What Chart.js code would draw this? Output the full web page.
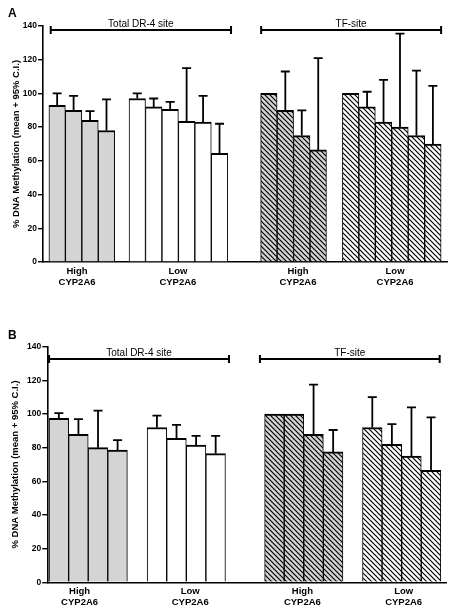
<!DOCTYPE html>
<html>
<head>
<meta charset="utf-8">
<script src="https://cdn.jsdelivr.net/npm/chart.js@4/dist/chart.umd.min.js"></script>
<style>
  body { margin: 0; background: #fff; }
  canvas { position: absolute; left: 0; display: block; }
</style>
</head>
<body>
<canvas id="chartA" width="456" height="300" style="top:0"></canvas>
<canvas id="chartB" width="456" height="312" style="top:300px"></canvas>
<script>
// labels
const groupNames = [['High', 'CYP2A6'], ['Low', 'CYP2A6'], ['High', 'CYP2A6'], ['Low', 'CYP2A6']];
const siteNames = ['Total DR-4 site', 'TF-site'];
const yTickValues = [0, 20, 40, 60, 80, 100, 120, 140];
const yTitle = '% DNA Methylation (mean + 95% C.I.)';

// panel A: means and upper 95% C.I.
const aDrHigh = [93, 90, 84, 78];
const aDrHighUp = [100, 98.5, 89.5, 96.5];
const aDrLow = [97, 92, 90.5, 83.5, 83, 64.5];
const aDrLowUp = [100, 97, 95, 115, 98.5, 82];
const aTfHigh = [100, 90, 75, 66.5];
const aTfHighUp = [null, 113, 90, 121];
const aTfLow = [100, 92, 83, 80, 75, 70];
const aTfLowUp = [null, 101, 108, 135.5, 113.5, 104.5];

// panel B
const bDrHigh = [97.5, 88, 80, 78.5];
const bDrHighUp = [100.5, 97, 102, 84.5];
const bDrLow = [92, 85.5, 81.5, 76.5];
const bDrLowUp = [99, 93.5, 87, 87];
const bTfHigh = [100, 100, 88, 77.5];
const bTfHighUp = [null, null, 117.5, 90.5];
const bTfLow = [92, 82, 75, 66.5];
const bTfLowUp = [110, 94, 104, 98];

const FONT = 'Arial, "Liberation Sans", sans-serif';
Chart.defaults.font.family = FONT;
Chart.defaults.color = '#000';

function hatch(bg) {
  const c = document.createElement('canvas');
  c.width = c.height = 5;
  const g = c.getContext('2d');
  g.fillStyle = bg;
  g.fillRect(0, 0, 5, 5);
  g.strokeStyle = '#000';
  g.lineWidth = 1.2;
  g.beginPath();
  g.moveTo(-1, -1); g.lineTo(6, 6);
  g.moveTo(-1, 4); g.lineTo(1, 6);
  g.moveTo(4, -1); g.lineTo(6, 1);
  g.stroke();
  return g.createPattern(c, 'repeat');
}
const fills = ['#d4d4d4', '#ffffff', hatch('#d4d4d4'), hatch('#ffffff')];

// errors bars, site brackets and panel letter
const extras = {
  id: 'extras',
  afterDatasetsDraw(chart) {
    const ctx = chart.ctx, y = chart.scales.y;
    ctx.save();
    ctx.strokeStyle = '#000';
    ctx.lineWidth = 1.8;
    chart.data.datasets.forEach((ds, di) => {
      chart.getDatasetMeta(di).data.forEach((bar, i) => {
        const up = ds.upper[i];
        if (up == null) return;
        const yu = y.getPixelForValue(up);
        ctx.beginPath();
        ctx.moveTo(bar.x, bar.y);
        ctx.lineTo(bar.x, yu);
        ctx.moveTo(bar.x - 4.5, yu);
        ctx.lineTo(bar.x + 4.5, yu);
        ctx.stroke();
      });
    });
    ctx.restore();
  },
  afterDraw(chart, args, opts) {
    const ctx = chart.ctx, x = chart.scales.x, y = chart.scales.y;
    ctx.save();
    ctx.strokeStyle = '#000';
    ctx.fillStyle = '#000';
    ctx.lineWidth = 2;
    const yb = Math.round(y.getPixelForValue(opts.bracketY));
    opts.brackets.forEach((b, i) => {
      const x1 = x.getPixelForValue(b[0]), x2 = x.getPixelForValue(b[1]);
      ctx.beginPath();
      ctx.moveTo(x1, yb); ctx.lineTo(x2, yb);
      ctx.moveTo(x1, yb - 4); ctx.lineTo(x1, yb + 4);
      ctx.moveTo(x2, yb - 4); ctx.lineTo(x2, yb + 4);
      ctx.stroke();
      ctx.font = '10px ' + FONT;
      ctx.textAlign = 'center';
      ctx.textBaseline = 'alphabetic';
      ctx.fillText(siteNames[i], (x1 + x2) / 2, yb - 3.5);
    });
    ctx.font = 'bold 12px ' + FONT;
    ctx.textAlign = 'left';
    ctx.fillText(opts.letter, 8, opts.letterY);
    ctx.restore();
  }
};

function panel(id, L, groups) {
  const datasets = groups.map((g, gi) => ({
    data: g.mean.map((v, i) => ({ x: L.starts[gi] + i + 0.5, y: v })),
    upper: g.up,
    grouped: false,
    barPercentage: 1,
    categoryPercentage: 1,
    backgroundColor: fills[gi],
    borderColor: '#000',
    borderWidth: { top: 2, left: 1, right: 1, bottom: 0 },
    borderSkipped: false
  }));
  new Chart(document.getElementById(id), {
    type: 'bar',
    data: { datasets },
    plugins: [extras],
    options: {
      responsive: false,
      animation: false,
      layout: { padding: { top: L.top, right: L.right, left: 0, bottom: 0 } },
      plugins: {
        legend: { display: false },
        tooltip: { enabled: false },
        extras: { brackets: L.brackets, bracketY: L.bracketY, letter: L.letter, letterY: L.letterY }
      },
      scales: {
        x: {
          type: 'linear',
          offset: false,
          min: 0,
          max: L.xMax,
          z: 1,
          grid: { display: false, drawTicks: false },
          border: { color: '#000', width: 1.6 },
          afterBuildTicks: s => { s.ticks = L.labelAt.map(v => ({ value: v })); },
          afterFit: s => { s.height = L.bottom; },
          ticks: {
            autoSkip: false,
            maxRotation: 0,
            padding: 4,
            font: { size: 9.5, weight: 'bold', lineHeight: 1.15 },
            callback: (v, i) => groupNames[i]
          }
        },
        y: {
          min: 0,
          max: 140,
          z: 1,
          afterBuildTicks: s => { s.ticks = yTickValues.map(v => ({ value: v })); },
          afterFit: s => { s.width = L.yWidth; },
          grid: { drawOnChartArea: false, drawTicks: true, tickLength: 5, color: '#000', lineWidth: 1.4 },
          border: { color: '#000', width: 1.6 },
          ticks: { padding: 1, font: { size: 8.5, weight: 'bold' } },
          title: {
            display: true,
            text: yTitle,
            font: { size: 9.5, weight: 'bold' },
            padding: { top: L.titlePad, bottom: 0 }
          }
        }
      }
    }
  });
}

panel('chartA', {
  top: 26, bottom: 38, yWidth: 43, right: 8.3, xMax: 24.6, titlePad: 10.3,
  starts: [0.36, 5.23, 13.23, 18.2],
  labelAt: [2.07, 8.2, 15.5, 21.4],
  brackets: [[0.47, 11.43], [13.26, 24.2]], bracketY: 137.8,
  letter: 'A', letterY: 17
}, [
  { mean: aDrHigh, up: aDrHighUp },
  { mean: aDrLow, up: aDrLowUp },
  { mean: aTfHigh, up: aTfHighUp },
  { mean: aTfLow, up: aTfLowUp }
]);

panel('chartB', {
  top: 46.7, bottom: 29.7, yWidth: 47.3, right: 9.3, xMax: 20.4, titlePad: 9.3,
  starts: [0.09, 5.1, 11.1, 16.1],
  labelAt: [1.65, 7.3, 13.03, 18.2],
  brackets: [[0.09, 9.28], [10.86, 20.04]], bracketY: 132.9,
  letter: 'B', letterY: 39.3
}, [
  { mean: bDrHigh, up: bDrHighUp },
  { mean: bDrLow, up: bDrLowUp },
  { mean: bTfHigh, up: bTfHighUp },
  { mean: bTfLow, up: bTfLowUp }
]);
</script>
</body>
</html>
